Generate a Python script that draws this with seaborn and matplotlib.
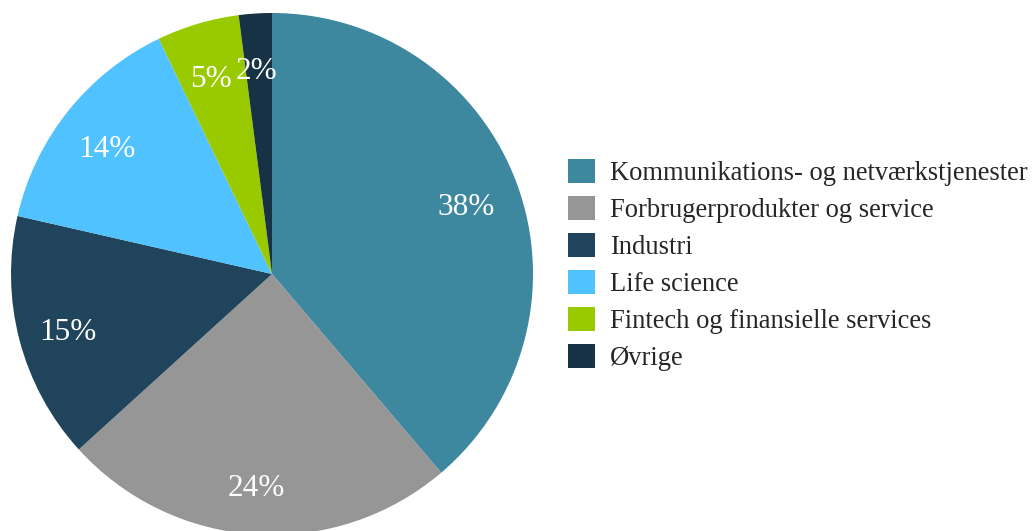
import matplotlib.pyplot as plt
import matplotlib.transforms as mtransforms
import seaborn as sns

categories = ["Kommunikations- og netværkstjenester", "Forbrugerprodukter og service",
              "Industri", "Life science", "Fintech og finansielle services", "Øvrige"]
shares = [38, 24, 15, 14, 5, 2]
colors = ["#3D879F", "#969696", "#1F445C", "#50C2FF", "#99CA00", "#173244"]

sns.set_theme(style="white")
plt.rcParams['font.family'] = ['Liberation Serif', 'DejaVu Serif']

fig = plt.figure(figsize=(10.35, 5.31), dpi=100)
# pie axes: centre ~ (272, 274) px, radius ~ 261 px
ax = fig.add_axes([11 / 1035, (531 - 535) / 531, 522 / 1035, 522 / 531])
palette = sns.color_palette(colors)

wedges, _, autotexts = ax.pie(shares, colors=palette, startangle=90, counterclock=False,
                              autopct=lambda p: "{:.0f}%".format(p * sum(shares) / 100),
                              pctdistance=0.8, wedgeprops=dict(linewidth=0),
                              textprops=dict(color="white", fontsize=22.5))
# labels sit a little lower in the original
shift = mtransforms.offset_copy(ax.transData, fig=fig, x=-2, y=-6, units="dots")
for t in autotexts:
    t.set_transform(shift)

ax.set_xlim(-1, 1)
ax.set_ylim(-1, 1)
ax.set_aspect("equal")
ax.axis("off")

fig.legend(wedges, categories, loc="center left",
           bbox_to_anchor=(568 / 1035, 1 - 265 / 531),
           frameon=False, fontsize=19.1, handlelength=1.02, handleheight=1.02,
           handletextpad=0.55, labelspacing=0.37, borderpad=0, borderaxespad=0)

plt.savefig("out.png", dpi=100)
